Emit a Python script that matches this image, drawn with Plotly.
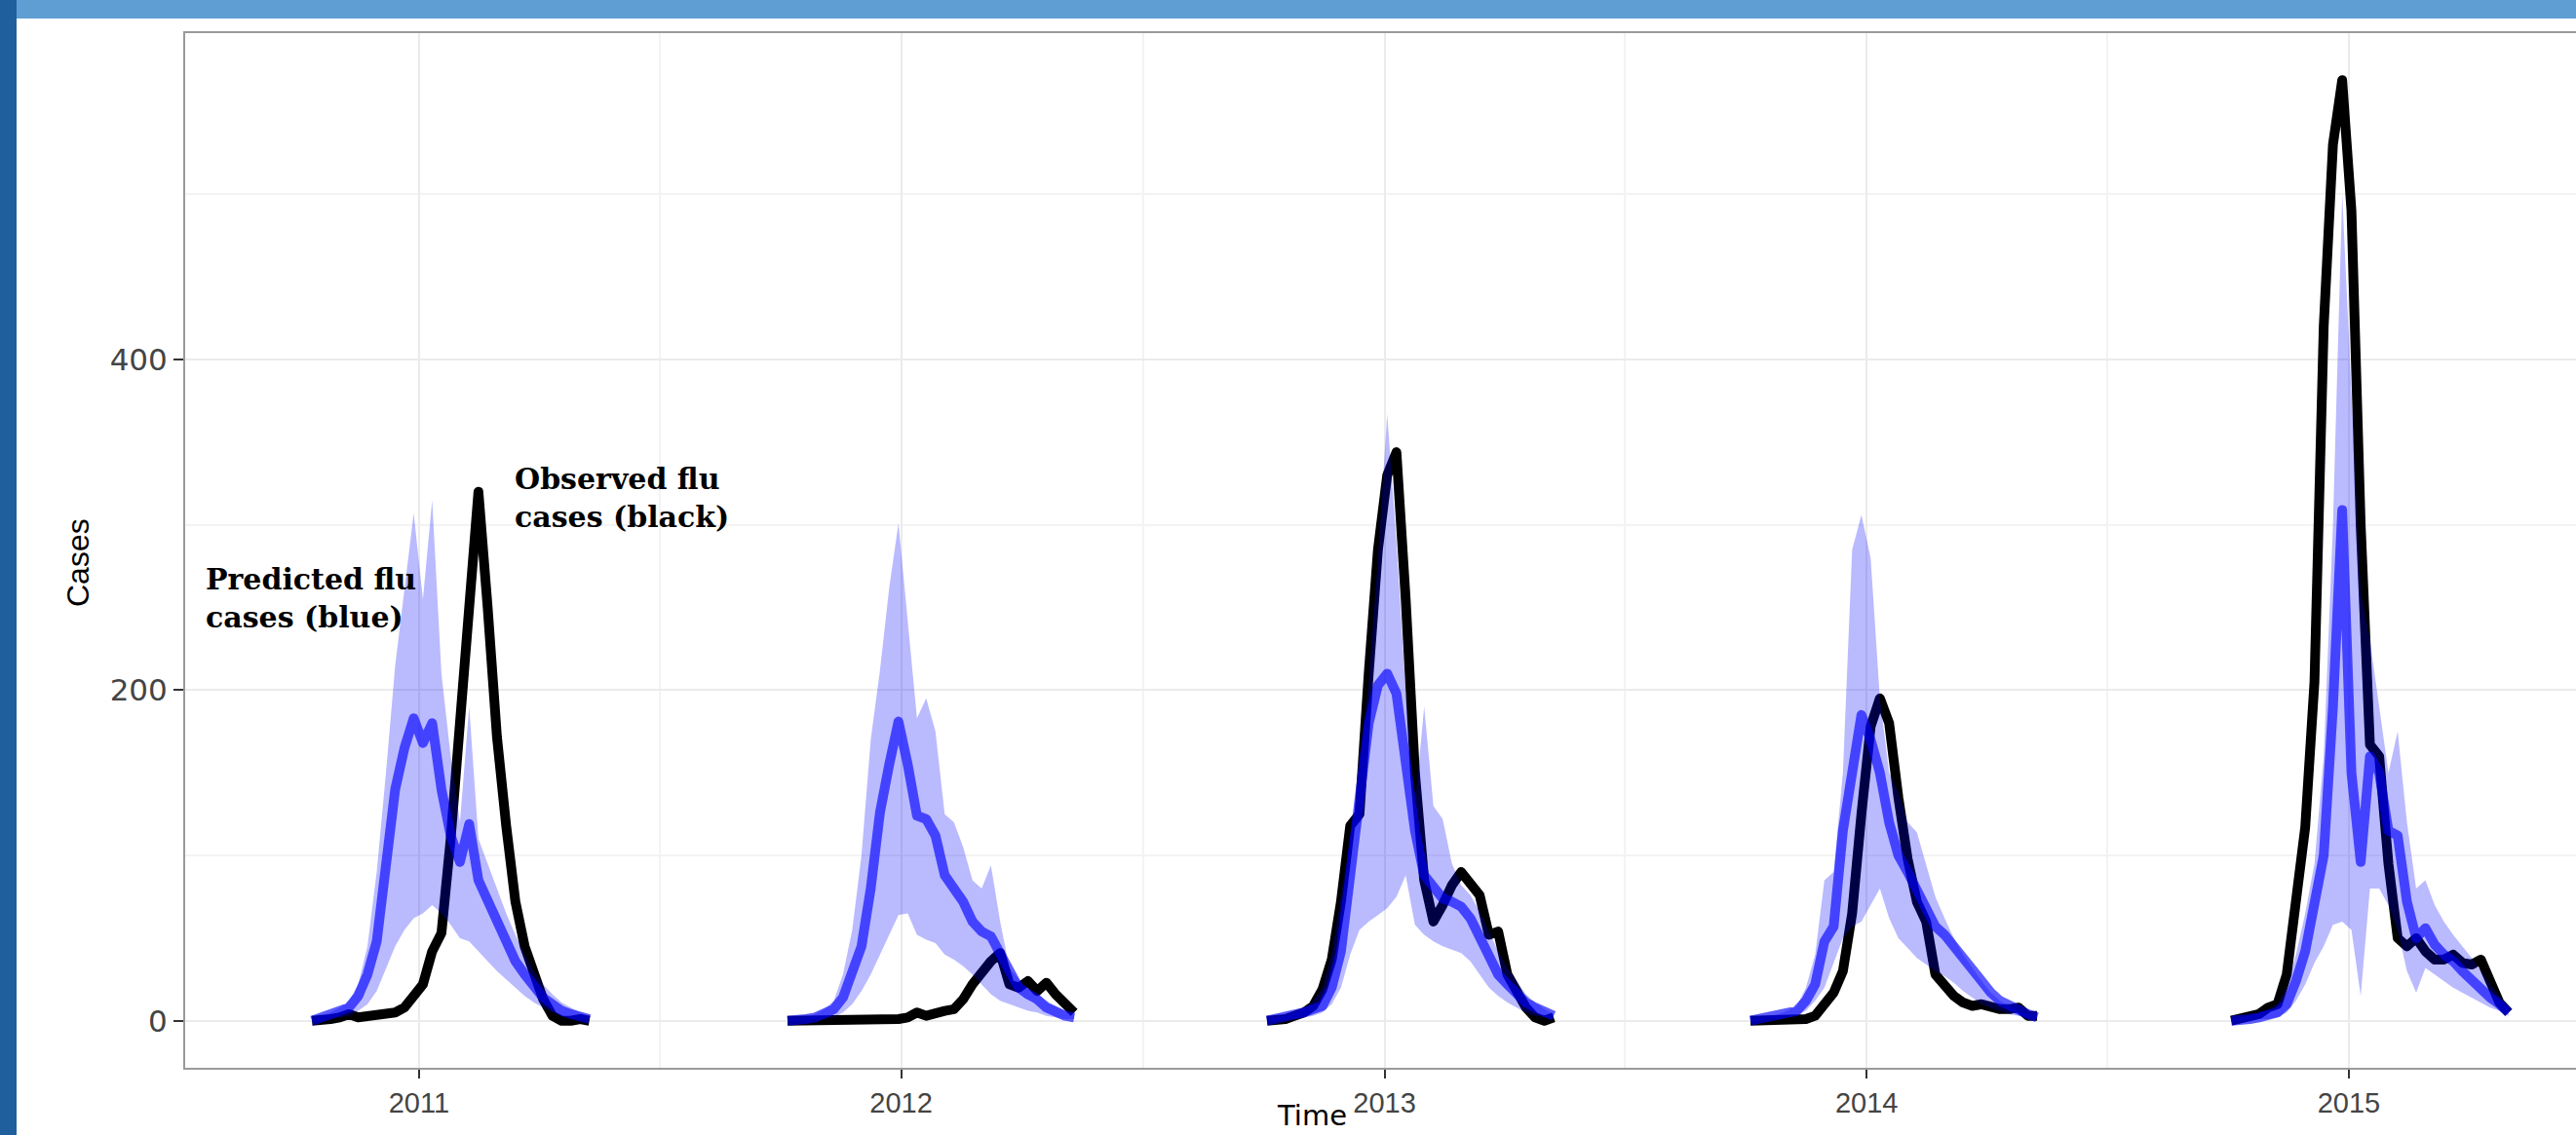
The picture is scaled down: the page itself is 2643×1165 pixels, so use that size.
import pandas as pd
import plotly.graph_objects as go

# ---------------- data (weekly values per flu season) ----------------
season_starts = ["2010-10-12", "2011-10-07", "2012-10-04", "2013-10-05", "2014-10-04"]

observed_2011 = [0, 0, 1, 2, 4, 2, 3, 3, 4, 5, 8, 14, 22, 42, 53, 110, 185, 255, 320, 250,
                 172, 118, 72, 45, 27, 13, 3, 0, 0, 1, 0]
predicted_2011 = [0, 2, 3, 5, 8, 15, 28, 48, 100, 140, 165, 183, 168, 180, 140, 112, 96, 119, 85, 72,
                  60, 48, 36, 28, 20, 14, 10, 6, 4, 2, 1]
lower_2011 = [0, 0, 1, 2, 3, 6, 10, 18, 32, 45, 55, 62, 65, 70, 65, 58, 50, 48, 42, 36,
              30, 25, 20, 15, 11, 8, 5, 3, 2, 1, 1]
upper_2011 = [1, 3, 5, 8, 12, 22, 45, 90, 150, 215, 260, 307, 255, 315, 210, 160, 120, 190, 110, 95,
              80, 65, 52, 40, 30, 22, 16, 11, 8, 5, 3]

observed_2012 = [0, 0, 0, 0, 0, 0, 0, 0, 0, 0, 1, 1, 1, 2, 5, 3, 5, 6, 7, 13,
                 22, 30, 36, 41, 22, 20, 24, 18, 23, 16, 11, 5]
predicted_2012 = [0, 0, 1, 2, 4, 7, 14, 28, 45, 80, 126, 155, 181, 155, 124, 122, 112, 88, 79, 72,
                  60, 54, 51, 40, 28, 20, 16, 13, 8, 5, 3, 2]
lower_2012 = [0, 0, 0, 1, 1, 2, 5, 10, 18, 28, 40, 52, 64, 65, 52, 49, 47, 40, 37, 33,
              28, 22, 16, 12, 10, 8, 6, 5, 3, 2, 1, 1]
upper_2012 = [1, 1, 2, 4, 7, 12, 28, 55, 100, 170, 212, 262, 301, 240, 183, 195, 175, 125, 120, 105,
              85, 80, 94, 60, 32, 25, 20, 16, 12, 9, 6, 4]

observed_2013 = [0, 0, 1, 3, 5, 9, 19, 37, 72, 118, 125, 210, 285, 330, 344, 255, 150, 85, 60, 70,
                 82, 90, 84, 76, 52, 54, 28, 17, 8, 2, 0, 2]
predicted_2013 = [0, 1, 2, 3, 5, 7, 9, 20, 42, 88, 135, 180, 203, 210, 198, 160, 115, 88, 82, 74,
                  72, 69, 62, 50, 38, 28, 22, 16, 11, 8, 5, 3]
lower_2013 = [0, 0, 1, 1, 2, 3, 5, 10, 20, 40, 55, 60, 64, 68, 75, 88, 58, 52, 48, 45,
              43, 41, 36, 28, 20, 15, 11, 8, 5, 3, 2, 1]
upper_2013 = [1, 2, 3, 5, 8, 12, 20, 40, 75, 110, 150, 205, 280, 367, 290, 200, 130, 190, 130, 122,
              95, 82, 76, 66, 54, 42, 32, 24, 16, 11, 7, 4]

observed_2014 = [0, 0, 0, 0, 0, 0, 1, 3, 9, 17, 30, 65, 125, 178, 195, 180, 135, 98, 72, 60,
                 28, 21, 15, 11, 9, 10, 8, 7, 7, 8, 3, 3]
predicted_2014 = [0, 1, 2, 3, 4, 6, 12, 22, 48, 57, 115, 155, 185, 170, 150, 120, 100, 90, 80, 70,
                  57, 52, 45, 38, 30, 22, 17, 12, 9, 6, 4, 2]
lower_2014 = [0, 0, 1, 1, 2, 3, 6, 12, 20, 35, 50, 57, 60, 70, 80, 62, 50, 44, 38, 34,
              30, 27, 23, 18, 14, 10, 8, 6, 4, 3, 2, 1]
upper_2014 = [1, 2, 3, 4, 6, 9, 20, 40, 85, 90, 150, 285, 306, 280, 195, 150, 138, 120, 114, 95,
              75, 62, 50, 40, 32, 24, 17, 12, 9, 6, 4, 3]

observed_2015 = [0, 1, 2, 4, 8, 10, 28, 68, 117, 205, 420, 530, 569, 490, 300, 167, 160, 95, 50, 45,
                 50, 42, 37, 37, 40, 35, 34, 37, 22, 11, 5]
predicted_2015 = [0, 0, 1, 2, 3, 5, 10, 24, 42, 68, 100, 190, 309, 150, 96, 160, 150, 115, 112, 72,
                  50, 56, 46, 40, 36, 30, 24, 19, 14, 10, 5]
lower_2015 = [0, 0, 0, 1, 1, 2, 5, 12, 22, 35, 45, 58, 60, 55, 15, 80, 80, 70, 55, 30,
              17, 32, 28, 24, 20, 17, 14, 11, 8, 6, 3]
upper_2015 = [1, 2, 3, 5, 7, 10, 20, 40, 65, 95, 160, 300, 500, 380, 260, 230, 190, 150, 175, 120,
              80, 85, 70, 60, 52, 45, 38, 30, 22, 15, 8]

observed = [observed_2011, observed_2012, observed_2013, observed_2014, observed_2015]
predicted = [predicted_2011, predicted_2012, predicted_2013, predicted_2014, predicted_2015]
lower = [lower_2011, lower_2012, lower_2013, lower_2014, lower_2015]
upper = [upper_2011, upper_2012, upper_2013, upper_2014, upper_2015]

y_ticks = [0, 200, 400]
x_tick_labels = ["2011", "2012", "2013", "2014", "2015"]

# ---------------- figure ----------------
W, H = 2643, 1165
ML, MR, MT, MB = 190, 0, 34, 69
PW, PH = W - ML - MR, H - MT - MB


def px_x(px):
    return (px - ML) / PW


def px_y(py):
    return (H - MB - py) / PH


LINE_W = 10
fig = go.Figure()
for start, obs, pred, lo, hi in zip(season_starts, observed, predicted, lower, upper):
    dates = pd.date_range(start, periods=len(obs), freq="7D")
    fig.add_trace(go.Scatter(x=dates, y=obs, mode="lines",
                             line=dict(color="black", width=LINE_W), hoverinfo="skip", showlegend=False))
    fig.add_trace(go.Scatter(x=dates, y=lo, mode="lines", line=dict(width=0, color="rgba(0,0,255,0)"),
                             hoverinfo="skip", showlegend=False))
    fig.add_trace(go.Scatter(x=dates, y=hi, mode="lines", line=dict(width=0, color="rgba(0,0,255,0)"),
                             fill="tonexty", fillcolor="rgba(0,0,255,0.27)",
                             hoverinfo="skip", showlegend=False))
    fig.add_trace(go.Scatter(x=dates, y=pred, mode="lines",
                             line=dict(color="rgba(0,0,255,0.64)", width=LINE_W),
                             hoverinfo="skip", showlegend=False))

x_tick_font = dict(family="Liberation Sans, Arial, sans-serif", size=29, color="#444444")
y_tick_font = dict(family="DejaVu Sans, sans-serif", size=31, color="#444444")
grid_col = "#ebebeb"
axis_line = "#9a9a9a"

fig.update_layout(
    width=W, height=H,
    margin=dict(l=ML, r=MR, t=MT, b=MB, pad=0),
    paper_bgcolor="white", plot_bgcolor="white",
    showlegend=False,
    xaxis=dict(
        type="date", range=["2010-07-08", "2015-06-22"],
        tickmode="array",
        tickvals=[f"{y}-01-01" for y in x_tick_labels], ticktext=x_tick_labels,
        ticks="outside", ticklen=9, tickwidth=2, tickcolor="#333333",
        tickfont=x_tick_font,
        showgrid=True, gridcolor=grid_col, gridwidth=2,
        minor=dict(tickmode="array",
                   tickvals=[f"{int(y) - 1}-07-02" for y in x_tick_labels] + ["2015-07-02"],
                   showgrid=True, gridcolor="#f3f3f3", gridwidth=2, ticks=""),
        showline=True, linecolor=axis_line, linewidth=2, mirror=True,
        zeroline=False,
    ),
    yaxis=dict(
        range=[-28.45, 597.45],
        tickmode="array", tickvals=y_ticks, ticktext=[str(v) for v in y_ticks],
        ticks="outside", ticklen=10, tickwidth=2, tickcolor="#333333",
        tickfont=y_tick_font,
        showgrid=True, gridcolor=grid_col, gridwidth=2,
        minor=dict(tickmode="array", tickvals=[100, 300, 500], showgrid=True,
                   gridcolor="#f3f3f3", gridwidth=2, ticks=""),
        showline=True, linecolor=axis_line, linewidth=2, mirror=False,
        zeroline=False,
    ),
)

# decorative slide frame
fig.add_shape(type="rect", xref="paper", yref="paper",
              x0=px_x(0), x1=px_x(W), y0=px_y(19), y1=px_y(-5),
              fillcolor="#5f9ed2", line=dict(width=0), layer="above")
fig.add_shape(type="rect", xref="paper", yref="paper",
              x0=px_x(-5), x1=px_x(17), y0=px_y(H + 5), y1=px_y(-5),
              fillcolor="#1f5f9e", line=dict(width=0), layer="above")

serif = dict(family="DejaVu Serif, serif", size=30, color="black")
fig.add_annotation(text="<b>Observed flu<br>cases (black)</b>", xref="paper", yref="paper",
                   x=px_x(526), y=px_y(472), xanchor="left", yanchor="top", align="left",
                   showarrow=False, font=serif)
fig.add_annotation(text="<b>Predicted flu<br>cases (blue)</b>", xref="paper", yref="paper",
                   x=px_x(209), y=px_y(575), xanchor="left", yanchor="top", align="left",
                   showarrow=False, font=serif)
fig.add_annotation(text="Cases", xref="paper", yref="paper", x=px_x(80), y=px_y(578),
                   xanchor="center", yanchor="middle", textangle=-90, showarrow=False,
                   font=dict(family="Liberation Sans, Arial, sans-serif", size=32, color="black"))
fig.add_annotation(text="Time", xref="paper", yref="paper", x=px_x(1346), y=px_y(1163),
                   xanchor="center", yanchor="bottom", showarrow=False, borderpad=0,
                   font=dict(family="DejaVu Sans, sans-serif", size=29, color="black"))

post = (
    "document.body.style.margin='0';document.body.style.overflow='hidden';"
    "var s=document.createElement('style');"
    "s.innerHTML='.js-line{stroke-linejoin:round !important;}';"
    "document.head.appendChild(s);"
)
fig.write_html("out.html", config={"displayModeBar": False}, post_script=post)
